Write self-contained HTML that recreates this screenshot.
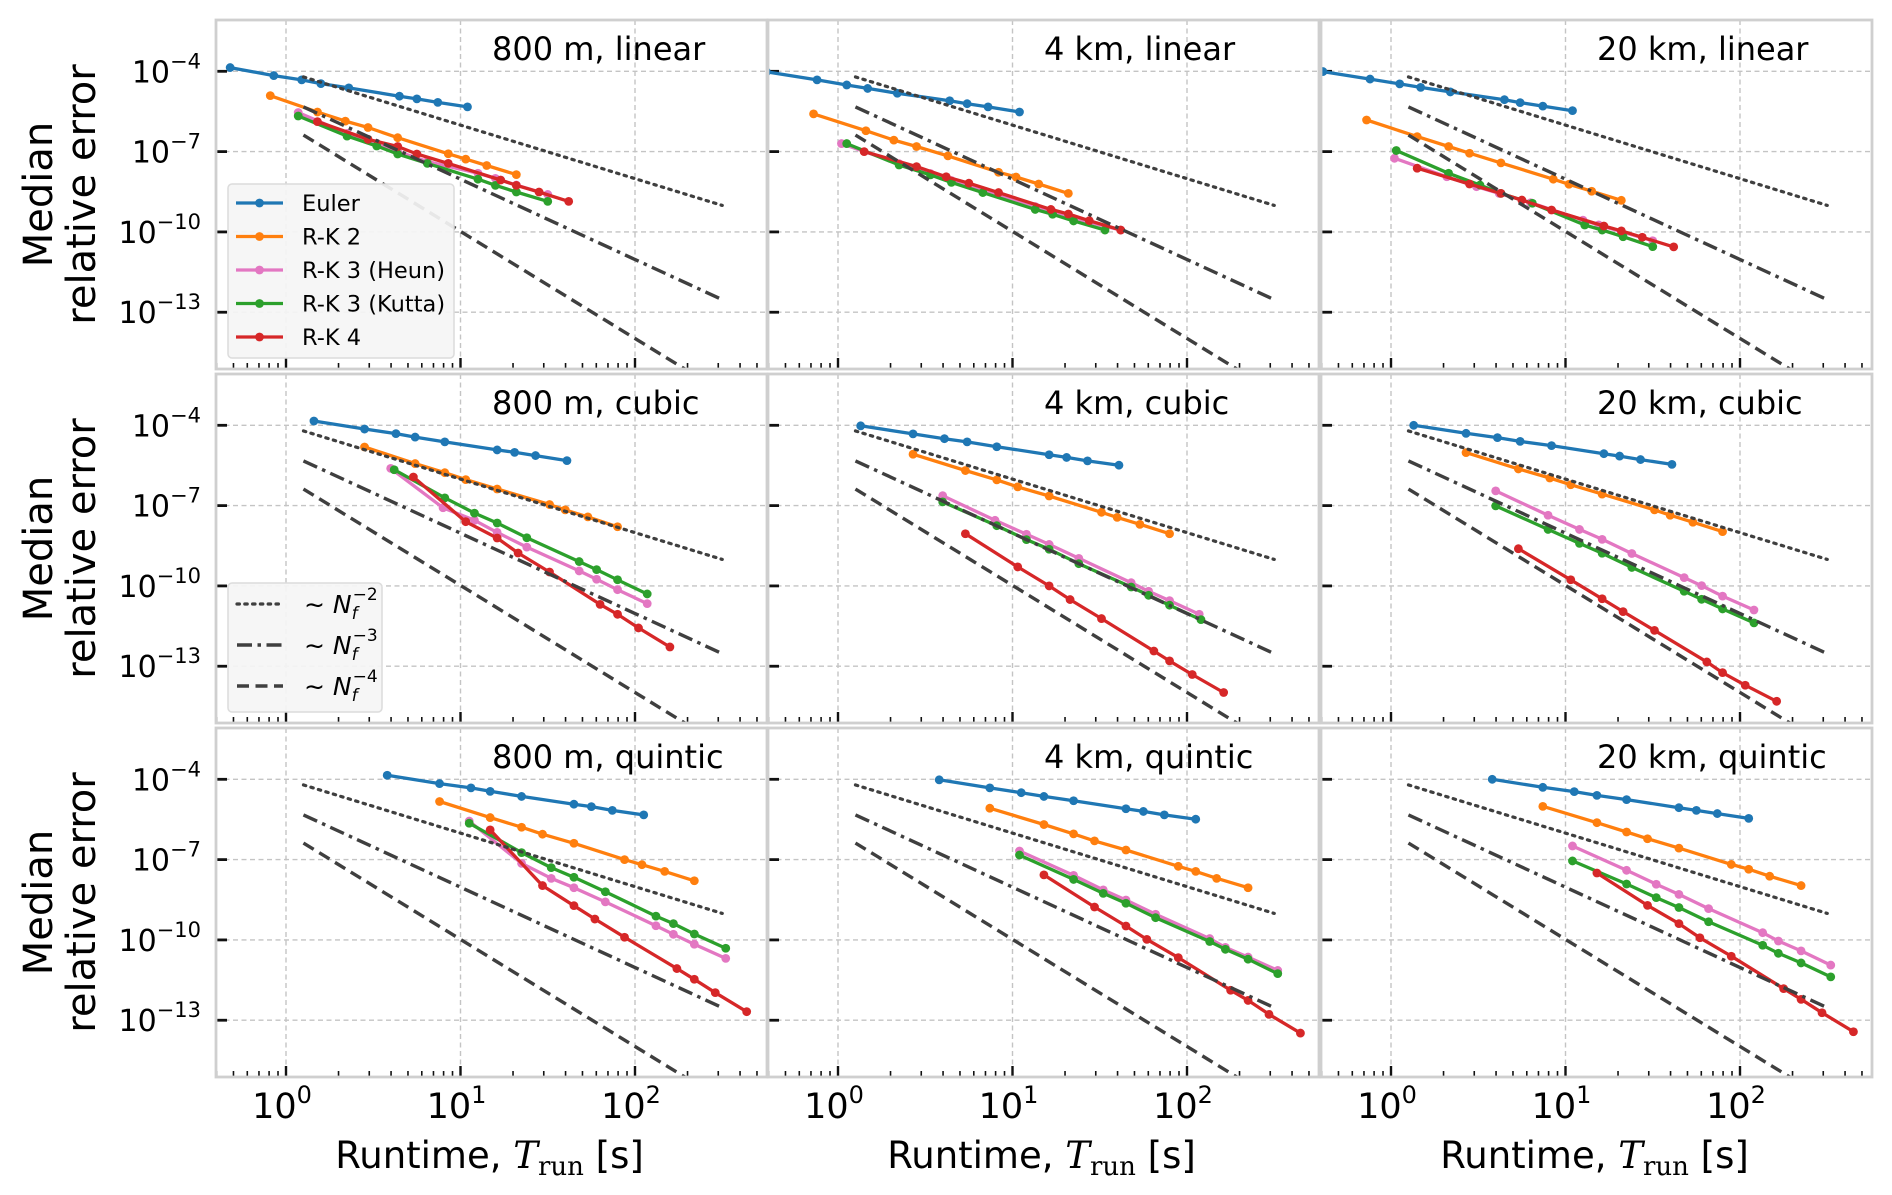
<!DOCTYPE html>
<html><head><meta charset="utf-8">
<style>
html,body{margin:0;padding:0;background:#fff;}
svg{display:block;}
text{font-family:"DejaVu Sans","Liberation Sans",sans-serif;}
</style></head>
<body>
<svg id="fig" xmlns="http://www.w3.org/2000/svg" width="1892" height="1195" viewBox="0 0 1892 1195"></svg>
<script>
// ---- chart data (log10 runtime [s], log10 median relative error) ----
const seriesNames = ["Euler","R-K 2","R-K 3 (Heun)","R-K 3 (Kutta)","R-K 4"];
const panelTitles = [["800 m, linear","4 km, linear","20 km, linear"],["800 m, cubic","4 km, cubic","20 km, cubic"],["800 m, quintic","4 km, quintic","20 km, quintic"]];
const xTickExps = [0,1,2];
const yTickExps = [-4,-7,-10,-13];
const refOrders = [2,3,4];
const refStartLogErr = [-4.21,-5.33,-6.38];
const refLogTRange = [0.1,2.5];

const p00_logT = [[-0.32,-0.07,0.09,0.20,0.36,0.65,0.75,0.87,1.04],[-0.09,0.18,0.34,0.47,0.64,0.93,1.03,1.15,1.32],[0.07,0.35,0.52,0.64,0.81,1.10,1.20,1.32,1.50],[0.07,0.35,0.52,0.64,0.81,1.10,1.20,1.32,1.50],[0.18,0.47,0.64,0.75,0.93,1.23,1.32,1.45,1.62]];
const p00_logErr = [[-3.86,-4.16,-4.32,-4.46,-4.62,-4.93,-5.03,-5.16,-5.33],[-4.91,-5.52,-5.86,-6.10,-6.48,-7.08,-7.28,-7.52,-7.86],[-5.54,-6.32,-6.69,-7.00,-7.37,-7.81,-8.00,-8.25,-8.60],[-5.67,-6.42,-6.79,-7.09,-7.44,-8.03,-8.26,-8.51,-8.86],[-5.88,-6.54,-6.81,-7.09,-7.44,-8.06,-8.26,-8.51,-8.86]];
const p01_logT = [[-0.41,-0.12,0.05,0.17,0.34,0.64,0.74,0.86,1.04],[-0.14,0.16,0.32,0.45,0.63,0.92,1.02,1.15,1.32],[0.02,0.35,0.53,0.65,0.83,1.13,1.23,1.35,1.62],[0.05,0.35,0.53,0.65,0.83,1.13,1.23,1.35,1.53],[0.15,0.45,0.62,0.75,0.92,1.22,1.32,1.44,1.62]];
const p01_logErr = [[-4.02,-4.32,-4.51,-4.64,-4.82,-5.10,-5.21,-5.33,-5.52],[-5.59,-6.22,-6.57,-6.81,-7.16,-7.77,-7.95,-8.21,-8.56],[-6.70,-7.45,-7.82,-8.08,-8.46,-9.05,-9.25,-9.50,-9.93],[-6.70,-7.50,-7.87,-8.15,-8.53,-9.16,-9.34,-9.59,-9.93],[-7.00,-7.56,-7.94,-8.18,-8.53,-9.16,-9.33,-9.58,-9.93]];
const p02_logT = [[-0.39,-0.12,0.05,0.17,0.34,0.65,0.74,0.87,1.04],[-0.14,0.15,0.33,0.45,0.63,0.93,1.02,1.15,1.32],[0.02,0.32,0.49,0.62,0.80,1.10,1.19,1.32,1.50],[0.03,0.33,0.51,0.63,0.81,1.11,1.21,1.33,1.50],[0.15,0.45,0.63,0.75,0.92,1.22,1.32,1.44,1.62]];
const p02_logErr = [[-4.01,-4.29,-4.47,-4.60,-4.77,-5.06,-5.17,-5.30,-5.47],[-5.82,-6.44,-6.81,-7.06,-7.42,-8.03,-8.22,-8.48,-8.82],[-7.25,-7.94,-8.31,-8.56,-8.91,-9.56,-9.74,-9.99,-10.33],[-6.96,-7.81,-8.25,-8.56,-8.93,-9.74,-9.93,-10.18,-10.55],[-7.62,-8.21,-8.56,-8.81,-9.18,-9.78,-9.96,-10.20,-10.56]];

const p10_logT = [[0.16,0.45,0.63,0.74,0.91,1.21,1.31,1.43,1.61],[0.45,0.74,0.91,1.03,1.21,1.51,1.60,1.73,1.90],[0.60,0.90,1.08,1.21,1.38,1.68,1.78,1.90,2.07],[0.62,0.91,1.08,1.21,1.38,1.68,1.78,1.90,2.07],[0.73,1.03,1.21,1.33,1.51,1.80,1.90,2.02,2.20]];
const p10_logErr = [[-3.84,-4.14,-4.31,-4.44,-4.62,-4.92,-5.01,-5.13,-5.32],[-4.81,-5.43,-5.77,-6.03,-6.38,-6.96,-7.16,-7.42,-7.79],[-5.61,-7.08,-7.55,-8.00,-8.55,-9.44,-9.75,-10.14,-10.66],[-5.66,-6.71,-7.28,-7.65,-8.20,-9.09,-9.39,-9.77,-10.30],[-5.93,-7.60,-8.21,-8.77,-9.48,-10.69,-11.06,-11.57,-12.28]];
const p11_logT = [[0.13,0.43,0.61,0.74,0.91,1.21,1.31,1.43,1.61],[0.43,0.73,0.91,1.03,1.21,1.51,1.60,1.73,1.90],[0.60,0.90,1.08,1.21,1.38,1.68,1.78,1.90,2.07],[0.60,0.91,1.08,1.21,1.38,1.68,1.78,1.90,2.08],[0.73,1.03,1.21,1.33,1.51,1.81,1.90,2.03,2.21]];
const p11_logErr = [[-4.02,-4.32,-4.50,-4.62,-4.80,-5.10,-5.20,-5.33,-5.49],[-5.08,-5.69,-6.04,-6.30,-6.64,-7.25,-7.44,-7.70,-8.05],[-6.63,-7.55,-8.07,-8.45,-8.97,-9.88,-10.20,-10.55,-11.06],[-6.86,-7.75,-8.27,-8.63,-9.17,-10.04,-10.35,-10.72,-11.26],[-8.05,-9.29,-10.00,-10.51,-11.22,-12.43,-12.80,-13.31,-13.98]];
const p12_logT = [[0.13,0.43,0.61,0.74,0.92,1.22,1.31,1.43,1.61],[0.43,0.73,0.91,1.03,1.21,1.51,1.60,1.73,1.90],[0.60,0.90,1.08,1.21,1.38,1.68,1.78,1.90,2.08],[0.60,0.90,1.08,1.21,1.38,1.68,1.78,1.90,2.08],[0.73,1.03,1.21,1.33,1.51,1.81,1.90,2.03,2.21]];
const p12_logErr = [[-4.00,-4.30,-4.46,-4.60,-4.76,-5.06,-5.15,-5.28,-5.46],[-5.02,-5.63,-5.97,-6.22,-6.57,-7.16,-7.36,-7.62,-7.97],[-6.45,-7.36,-7.89,-8.26,-8.79,-9.69,-9.99,-10.38,-10.90],[-7.01,-7.89,-8.41,-8.78,-9.31,-10.20,-10.50,-10.86,-11.38],[-8.61,-9.77,-10.48,-10.96,-11.66,-12.84,-13.24,-13.71,-14.31]];

const p20_logT = [[0.58,0.88,1.06,1.17,1.35,1.65,1.75,1.87,2.05],[0.88,1.17,1.35,1.47,1.65,1.94,2.04,2.17,2.34],[1.05,1.35,1.52,1.65,1.83,2.12,2.22,2.34,2.52],[1.05,1.35,1.52,1.65,1.83,2.12,2.22,2.34,2.52],[1.17,1.47,1.65,1.77,1.94,2.24,2.34,2.46,2.64]];
const p20_logErr = [[-3.85,-4.16,-4.32,-4.45,-4.64,-4.93,-5.02,-5.16,-5.33],[-4.83,-5.43,-5.79,-6.05,-6.39,-7.00,-7.19,-7.44,-7.79],[-5.56,-7.14,-7.70,-8.05,-8.58,-9.47,-9.79,-10.16,-10.69],[-5.64,-6.74,-7.30,-7.66,-8.20,-9.11,-9.39,-9.78,-10.31],[-5.89,-7.97,-8.72,-9.22,-9.90,-11.07,-11.47,-11.97,-12.68]];
const p21_logT = [[0.58,0.87,1.05,1.18,1.35,1.65,1.75,1.87,2.05],[0.87,1.18,1.35,1.47,1.65,1.95,2.05,2.17,2.35],[1.04,1.35,1.52,1.65,1.82,2.13,2.22,2.35,2.52],[1.04,1.35,1.52,1.65,1.82,2.13,2.22,2.35,2.52],[1.18,1.47,1.65,1.77,1.95,2.25,2.35,2.47,2.65]];
const p21_logErr = [[-4.02,-4.32,-4.50,-4.64,-4.80,-5.10,-5.20,-5.33,-5.49],[-5.08,-5.69,-6.04,-6.30,-6.64,-7.25,-7.44,-7.70,-8.05],[-6.68,-7.59,-8.13,-8.51,-9.04,-9.95,-10.28,-10.64,-11.14],[-6.83,-7.74,-8.26,-8.63,-9.17,-10.06,-10.35,-10.72,-11.26],[-7.57,-8.77,-9.48,-9.98,-10.66,-11.88,-12.26,-12.78,-13.48]];
const p22_logT = [[0.58,0.87,1.05,1.18,1.35,1.65,1.75,1.87,2.05],[0.87,1.18,1.35,1.47,1.65,1.95,2.05,2.17,2.35],[1.04,1.35,1.52,1.65,1.82,2.13,2.22,2.35,2.52],[1.04,1.35,1.52,1.65,1.82,2.13,2.22,2.35,2.52],[1.18,1.47,1.65,1.77,1.95,2.25,2.35,2.47,2.65]];
const p22_logErr = [[-4.00,-4.30,-4.46,-4.60,-4.76,-5.06,-5.16,-5.28,-5.46],[-5.01,-5.62,-5.97,-6.22,-6.57,-7.18,-7.36,-7.62,-7.97],[-6.49,-7.40,-7.92,-8.30,-8.83,-9.73,-10.04,-10.41,-10.94],[-7.05,-7.91,-8.42,-8.79,-9.32,-10.20,-10.50,-10.86,-11.38],[-7.50,-8.71,-9.39,-9.92,-10.61,-11.82,-12.22,-12.72,-13.43]];

const panelLogT = [[p00_logT,p01_logT,p02_logT],[p10_logT,p11_logT,p12_logT],[p20_logT,p21_logT,p22_logT]];
const panelLogErr = [[p00_logErr,p01_logErr,p02_logErr],[p10_logErr,p11_logErr,p12_logErr],[p20_logErr,p21_logErr,p22_logErr]];

// ---- layout ----
const colors = ["#1f77b4","#ff7f0e","#e377c2","#2ca02c","#d62728"];
const colLeft = [216,768,1321], rowTop = [20,374,728];
const PW = 551, PH = 349, X0OFF = 70, DEC_X = 174.5, Y4OFF = 51.3, DEC_Y = 26.77;
const LW = 3.3, MR = 4.4;
const NS = "http://www.w3.org/2000/svg";
const svg = document.getElementById('fig');

function mk(tag, attrs, parent){
  const e = document.createElementNS(NS, tag);
  for (const k in attrs) e.setAttribute(k, attrs[k]);
  (parent||svg).appendChild(e);
  return e;
}
function xScale(c, lx){ return colLeft[c] + X0OFF + lx*DEC_X; }
function yScale(r, ly){ return rowTop[r] + Y4OFF + (-4 - ly)*DEC_Y; }

const defs = mk('defs', {});
const refDash = ["2.4,5.4","15,5.5,3.5,5.5","12,6.5"];
const superMinus = "\u2212";

for (let r=0;r<3;r++){
  for (let c=0;c<3;c++){
    const L = colLeft[c], T = rowTop[r];
    const g = mk('g', {});
    
    
    const cp = mk('clipPath', {id:'cp'+r+c}, defs);
    mk('rect', {x:L, y:T, width:PW, height:PH}, cp);
    const bg = mk('rect', {x:L, y:T, width:PW, height:PH, fill:'#fff'}, g);
    
    
    const grid = mk('g', {stroke:'#c4c4c4', 'stroke-width':1.4, 'stroke-dasharray':'5,3.5'}, g);
    
    
    xTickExps.forEach(e=>{ const x=xScale(c,e); mk('line',{x1:x,x2:x,y1:T,y2:T+PH},grid); });
    yTickExps.forEach(e=>{ const y=yScale(r,e); mk('line',{x1:L,x2:L+PW,y1:y,y2:y},grid); });
    const ticks = mk('g', {stroke:'#111'}, g);
    
    
    const lmin = -X0OFF/DEC_X, lmax = (PW-X0OFF)/DEC_X;
    for (let d=-1; d<=2; d++){
      for (let m=1; m<=9; m++){
        const lv = d + Math.log10(m);
        if (lv<lmin || lv>lmax) continue;
        const x = xScale(c, lv);
        const major = (m===1);
        mk('line',{x1:x,x2:x,y1:T+PH,y2:T+PH-(major?11:6),'stroke-width':major?2.4:1.6},ticks);
      }
    }
    yTickExps.forEach(e=>{ const y=yScale(r,e); mk('line',{x1:L,x2:L+11,y1:y,y2:y,'stroke-width':2.8},ticks); });
    const sg = mk('g', {'clip-path':'url(#cp'+r+c+')'}, g);
    const lt = panelLogT[r][c], le = panelLogErr[r][c];
    for (let s=0;s<5;s++){
      const pts = lt[s].map((v,i)=>xScale(c,v).toFixed(1)+','+yScale(r,le[s][i]).toFixed(1));
      const pl = mk('polyline',{points:pts.join(' '),fill:'none',stroke:colors[s],'stroke-width':LW,'stroke-linejoin':'round'},sg);
      
      
      lt[s].forEach((v,i)=>{
        const dot = mk('circle',{cx:xScale(c,v),cy:yScale(r,le[s][i]),r:MR,fill:colors[s]},sg);
        
        
      });
    }
    refOrders.forEach((p,k)=>{
      const x1 = xScale(c, refLogTRange[0]), x2 = xScale(c, refLogTRange[1]);
      const y1 = yScale(r, refStartLogErr[k]);
      const y2 = yScale(r, refStartLogErr[k] - p*(refLogTRange[1]-refLogTRange[0]));
      const ln = mk('line',{x1:x1,y1:y1,x2:x2,y2:y2,stroke:'#3f3f3f','stroke-width':k===0?3.2:3.4,'stroke-dasharray':refDash[k],'stroke-linecap':k===0?'round':'butt'},sg);
      
      
    });
    const fr = mk('rect',{x:L,y:T,width:PW,height:PH,fill:'none',stroke:'#cfcfcf','stroke-width':2.8},g);
    
    
    const tt = mk('text',{x:L+276,y:T+40,'font-size':32,fill:'#000'},g);
    tt.textContent = panelTitles[r][c];
    
    
    if (c===0){
      yTickExps.forEach(e=>{
        const y = yScale(r,e);
        const t = mk('text',{x:201,y:y+11,'text-anchor':'end','font-size':30,fill:'#000'},g);
        
        
        const a = mk('tspan',{},t); a.textContent='10';
        const b = mk('tspan',{dy:-14,'font-size':21},t); b.textContent=superMinus+Math.abs(e);
      });
      const yl = mk('text',{transform:'translate(0,'+(T+PH/2)+') rotate(-90)','text-anchor':'middle','font-size':40,fill:'#000'},g);
      
      
      const l1 = mk('tspan',{x:0,y:52},yl); l1.textContent='Median';
      const l2 = mk('tspan',{x:0,y:95},yl); l2.textContent='relative error';
    }
    if (r===2){
      xTickExps.forEach(e=>{
        const x = xScale(c,e);
        const t = mk('text',{x:x-4,y:1118,'text-anchor':'middle','font-size':35,fill:'#000'},g);
        
        
        const a = mk('tspan',{},t); a.textContent='10';
        const b = mk('tspan',{dy:-15,'font-size':24},t); b.textContent=String(e);
      });
      const xt = mk('text',{x:L+PW/2-2,y:1168,'text-anchor':'middle','font-size':37,fill:'#000'},g);
      
      
      const a = mk('tspan',{},xt); a.textContent='Runtime, ';
      const b = mk('tspan',{'font-family':'DejaVu Serif, Liberation Serif, serif','font-style':'italic'},xt); b.textContent='T';
      const s = mk('tspan',{'font-family':'DejaVu Serif, Liberation Serif, serif','font-size':26,dy:7},xt); s.textContent='run';
      const d = mk('tspan',{dy:-7},xt); d.textContent=' [s]';
    }
  }
}

const lg1 = mk('g',{});


mk('rect',{x:228,y:184,width:226,height:174,rx:4,fill:'#f5f5f5','fill-opacity':0.92,stroke:'#dcdcdc','stroke-width':1.5},lg1);
seriesNames.forEach((n,i)=>{
  const y = 203 + i*33.5;
  const e = mk('g',{},lg1);
  
  
  mk('line',{x1:236,x2:283,y1:y,y2:y,stroke:colors[i],'stroke-width':LW},e);
  mk('circle',{cx:259.5,cy:y,r:MR,fill:colors[i]},e);
  const t = mk('text',{x:302,y:y+8,'font-size':22.5,fill:'#000'},e);
  t.textContent = n;
});

const lg2 = mk('g',{});


mk('rect',{x:228,y:583,width:154,height:129,rx:4,fill:'#f5f5f5','fill-opacity':0.92,stroke:'#dcdcdc','stroke-width':1.5},lg2);
refOrders.forEach((p,k)=>{
  const y = 604 + k*41;
  const e = mk('g',{},lg2);
  
  
  mk('line',{x1:237,x2:283,y1:y,y2:y,stroke:'#3f3f3f','stroke-width':k===0?3.2:3.4,'stroke-dasharray':refDash[k],'stroke-linecap':k===0?'round':'butt'},e);
  const t = mk('text',{x:304,y:y+9,'font-size':25,fill:'#000','font-family':'DejaVu Serif, Liberation Serif, serif'},e);
  const a = mk('tspan',{},t); a.textContent='\u223C ';
  const b = mk('tspan',{'font-style':'italic'},t); b.textContent='N';
  const sub = mk('tspan',{'font-style':'italic','font-size':17,dy:6},t); sub.textContent='f';
  const sup = mk('tspan',{'font-size':17,dx:-5,dy:-19},t); sup.textContent=superMinus+p;
});
</script>
</body></html>
